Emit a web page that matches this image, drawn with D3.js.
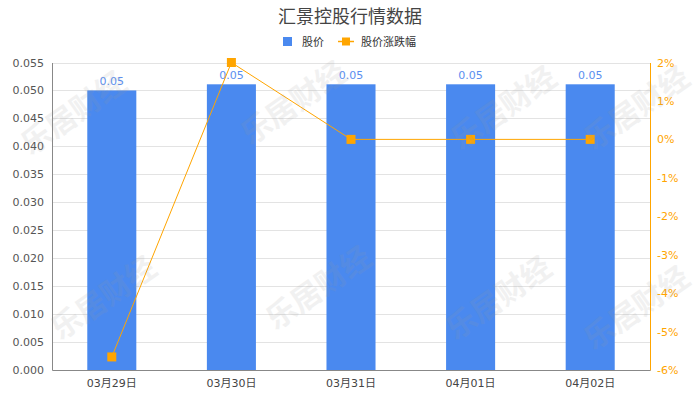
<!DOCTYPE html>
<html><head><meta charset="utf-8">
<script src="https://cdn.jsdelivr.net/npm/d3@7"></script>
<style>body{margin:0;background:#fff;} svg{display:block;}</style>
</head><body>
<svg id="chart" width="700" height="400"></svg>
<script>
const categories = ["03月29日","03月30日","03月31日","04月01日","04月02日"];
const prices = [0.0500, 0.0511, 0.0511, 0.0511, 0.0511];
const priceLabels = ["0.05","0.05","0.05","0.05","0.05"];
const changes = [-5.66, 2.0, 0, 0, 0];
const leftTicks = [0,0.005,0.01,0.015,0.02,0.025,0.03,0.035,0.04,0.045,0.05,0.055];
const rightTicks = [-6,-5,-4,-3,-2,-1,0,1,2];
const title = "汇景控股行情数据";
const legendNames = ["股价","股价涨跌幅"];
const watermark = "乐居财经";

const svg = d3.select("#chart");
const font = "'DejaVu Sans','Noto Sans CJK SC',sans-serif";
const m = {l:52, r:50, t:62.5, b:30};
const W = 700, H = 400;
const x = d3.scaleBand().domain(categories).range([m.l, W - m.r]).paddingInner(0.59).paddingOuter(0.295);
const y = d3.scaleLinear().domain([0,0.055]).range([H - m.b, m.t]);
const y2 = d3.scaleLinear().domain([-6,2]).range([H - m.b, m.t]);

// title
svg.append("text").attr("x",350).attr("y",23).attr("text-anchor","middle")
  .attr("font-family",font).attr("font-size",18).attr("fill","#444").text(title);

// legend
const lg = svg.append("g");
lg.append("rect").attr("x",283).attr("y",37).attr("width",9).attr("height",9).attr("fill","#4a89ef");
lg.append("text").attr("x",302).attr("y",45.5).attr("font-family",font).attr("font-size",11).attr("fill","#333").text(legendNames[0]);
lg.append("line").attr("x1",338).attr("x2",354).attr("y1",41.5).attr("y2",41.5).attr("stroke","#FFA500").attr("stroke-width",1.5);
lg.append("rect").attr("x",342).attr("y",37.5).attr("width",8).attr("height",8).attr("fill","#FFA500");
lg.append("text").attr("x",361).attr("y",45.5).attr("font-family",font).attr("font-size",11).attr("fill","#333").text(legendNames[1]);

// gridlines
svg.append("g").selectAll("line").data(leftTicks.slice(1)).join("line")
  .attr("x1",m.l).attr("x2",W-m.r).attr("y1",d=>Math.round(y(d))+0.5).attr("y2",d=>Math.round(y(d))+0.5)
  .attr("stroke","#e3e3e3").attr("stroke-width",1);

// left axis
const la = svg.append("g").attr("transform",`translate(${m.l},0)`)
  .call(d3.axisLeft(y).tickValues(leftTicks).tickFormat(d3.format(".3f")).tickSize(0).tickPadding(8));
la.select(".domain").attr("stroke","#888");
la.selectAll("text").attr("font-family",font).attr("font-size",11).attr("fill","#555");

// right axis
const ra = svg.append("g").attr("transform",`translate(${W-m.r},0)`)
  .call(d3.axisRight(y2).tickValues(rightTicks).tickFormat(d=>d+"%").tickSize(0).tickPadding(7));
ra.select(".domain").attr("stroke","#FFA500");
ra.selectAll("text").attr("font-family",font).attr("font-size",11).attr("fill","#FFA500");

// bars
svg.append("g").selectAll("rect").data(prices).join("rect")
  .attr("x",(d,i)=>x(categories[i])).attr("width",x.bandwidth())
  .attr("y",d=>y(d)).attr("height",d=>y(0)-y(d)).attr("fill","#4a89ef");

// bar labels
svg.append("g").selectAll("text").data(prices).join("text")
  .attr("x",(d,i)=>x(categories[i])+x.bandwidth()/2).attr("y",d=>y(d)-5)
  .attr("text-anchor","middle").attr("font-family",font).attr("font-size",11).attr("fill","#5b8ff0")
  .text((d,i)=>priceLabels[i]);

// bottom axis
const ba = svg.append("g").attr("transform",`translate(0,${H-m.b})`)
  .call(d3.axisBottom(x).tickSize(0).tickPadding(9));
ba.select(".domain").attr("stroke","#888");
ba.selectAll("text").attr("font-family",font).attr("font-size",11).attr("fill","#444");

// line
const cx = i => x(categories[i]) + x.bandwidth()/2;
svg.append("path").datum(changes)
  .attr("d", d3.line().x((d,i)=>cx(i)).y(d=>y2(d)))
  .attr("fill","none").attr("stroke","#FFA500").attr("stroke-width",1);
svg.append("g").selectAll("rect").data(changes).join("rect")
  .attr("x",(d,i)=>cx(i)-4.5).attr("y",d=>y2(d)-4.5).attr("width",9).attr("height",9).attr("fill","#FFA500");

// watermarks
const wm = [[75,115],[295,105],[505,110],[638,110],[105,300],[320,290],[500,300],[638,310]];
svg.append("g").selectAll("text").data(wm).join("text")
  .attr("transform",d=>`translate(${d[0]},${d[1]}) rotate(-35)`)
  .attr("text-anchor","middle").attr("dominant-baseline","middle")
  .attr("font-family","'Noto Sans CJK SC',sans-serif").attr("font-weight","bold").attr("font-size",30)
  .attr("fill","#999").attr("opacity",0.13).text(watermark);
</script>
</body></html>
